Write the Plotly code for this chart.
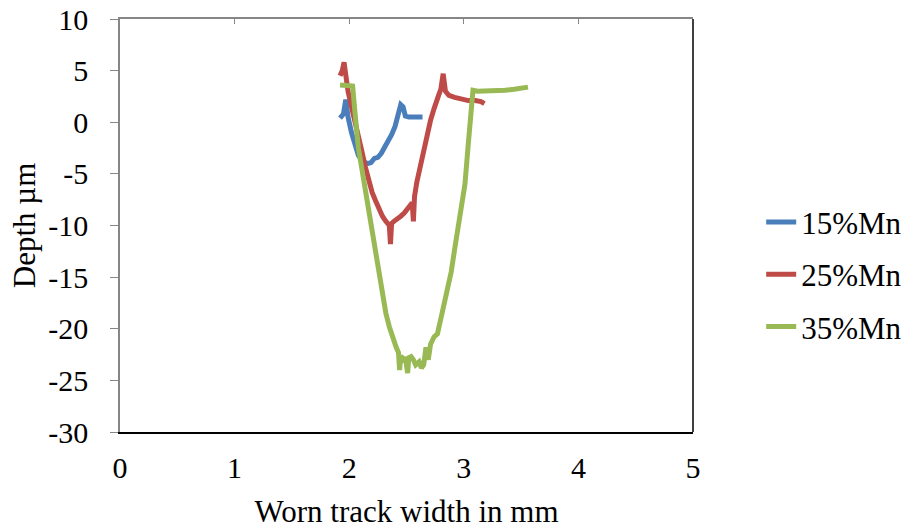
import plotly.graph_objects as go

x15 = [1.92, 1.95, 1.97, 1.99, 2.02, 2.05, 2.08, 2.12, 2.16, 2.19, 2.22, 2.25, 2.28, 2.31,
       2.34, 2.37, 2.40, 2.43, 2.45, 2.47, 2.49, 2.52, 2.56, 2.60, 2.64]
y15 = [0.4, 0.8, 2.2, 0.5, -1.0, -2.2, -3.2, -3.8, -4.0, -3.9, -3.5, -3.4, -3.0, -2.4,
       -1.9, -1.2, -0.4, 0.8, 1.7, 1.5, 0.6, 0.5, 0.5, 0.5, 0.5]

x25 = [1.92, 1.94, 1.955, 1.97, 1.99, 2.02, 2.05, 2.08, 2.11, 2.14, 2.17, 2.20, 2.23, 2.26,
       2.29, 2.32, 2.35, 2.36, 2.37, 2.39, 2.42, 2.45, 2.48, 2.51, 2.53, 2.55, 2.56, 2.57,
       2.59, 2.62, 2.65, 2.68, 2.71, 2.74, 2.76, 2.78, 2.80, 2.82, 2.84, 2.87, 2.92, 2.98,
       3.04, 3.10, 3.15, 3.18]
y25 = [4.5, 5.0, 5.8, 4.2, 3.0, 1.5, 0.2, -1.2, -2.8, -4.3, -5.8, -6.8, -7.6, -8.5,
       -9.1, -9.6, -10.0, -11.8, -9.8, -9.6, -9.4, -9.1, -8.8, -8.3, -8.0, -7.8, -9.6, -7.2,
       -5.8, -4.2, -2.6, -1.3, 0.2, 1.3, 2.2, 2.6, 3.2, 4.7, 3.0, 2.6, 2.4, 2.2,
       2.1, 2.1, 2.0, 1.8]

x35 = [1.92, 1.96, 2.00, 2.03, 2.05, 2.08, 2.11, 2.14, 2.17, 2.20, 2.23, 2.26, 2.29, 2.32,
       2.35, 2.38, 2.41, 2.43, 2.44, 2.45, 2.47, 2.49, 2.51, 2.52, 2.54, 2.56, 2.58, 2.61,
       2.63, 2.65, 2.67, 2.69, 2.71, 2.74, 2.77, 2.80, 2.83, 2.86, 2.89, 2.92, 2.95, 2.98,
       3.01, 3.04, 3.06, 3.08, 3.12, 3.20, 3.28, 3.36, 3.44, 3.50, 3.56]
y35 = [3.6, 3.6, 3.6, 3.5, 1.0, -2.5, -4.5, -6.5, -8.5, -10.6, -12.5, -14.5, -16.8, -18.5,
       -19.8, -21.0, -21.8, -22.3, -24.0, -22.6, -23.0, -22.8, -24.3, -22.8, -22.7, -23.0, -23.5, -23.2,
       -23.8, -23.5, -21.8, -23.0, -21.5, -20.8, -20.5, -19.0, -17.5, -16.0, -14.5, -12.3, -10.2, -8.3,
       -6.0, -2.0, 1.0, 3.1, 3.0, 3.0, 3.1, 3.1, 3.2, 3.3, 3.4]

names = ["15%Mn", "25%Mn", "35%Mn"]
colors = ["#4A7EBB", "#BE4B48", "#98B954"]
xtick_vals = [0, 1, 2, 3, 4, 5]
xtick_text = ["0", "1", "2", "3", "4", "5"]
ytick_vals = [10, 5, 0, -5, -10, -15, -20, -25, -30]
ytick_text = ["10", "5", "0", "-5", "-10", "-15", "-20", "-25", "-30"]

FONT = "Liberation Serif"

fig = go.Figure()
for xs, ys, nm, c in zip([x15, x25, x35], [y15, y25, y35], names, colors):
    fig.add_trace(go.Scatter(x=xs, y=ys, mode="lines", name=nm, legendgroup=nm,
                             line=dict(color=c, width=5)))
fig.add_trace(go.Scatter(x=[None], y=[None], xaxis="x2", showlegend=False, hoverinfo="skip"))

fig.update_layout(
    width=907, height=529,
    margin=dict(l=120, r=214, t=19, b=97, autoexpand=False),
    plot_bgcolor="white", paper_bgcolor="white",
    font=dict(family=FONT, size=30, color="black"),
    xaxis=dict(range=[0, 5], tickvals=xtick_vals, ticktext=xtick_text,
               showgrid=False, zeroline=False, automargin=False,
               showline=True, linecolor="black", linewidth=1.5, ticks="",
               ticklabelstandoff=8, tickfont=dict(size=30),
               title=dict(text="Worn track width in mm", standoff=27,
                          font=dict(size=31))),
    xaxis2=dict(range=[0, 5], overlaying="x", side="top", tickvals=xtick_vals,
                showgrid=False, zeroline=False, showline=True, linecolor="#868686",
                linewidth=1.5, ticks="inside", ticklen=5, tickcolor="#868686",
                showticklabels=False, automargin=False),
    yaxis=dict(range=[-30, 10], tickvals=ytick_vals, ticktext=ytick_text,
               showgrid=False, zeroline=False, automargin=False,
               showline=True, linecolor="#868686", linewidth=1.5, ticks="outside",
               ticklen=8, tickcolor="#868686", ticklabelstandoff=16,
               tickfont=dict(size=30),
               title=dict(text="Depth µm", standoff=3, font=dict(size=31))),
    legend=dict(x=1.119, xanchor="left", y=0.382, yanchor="middle",
                font=dict(family=FONT, size=31), tracegroupgap=9,
                bgcolor="rgba(0,0,0,0)"),
    shapes=[dict(type="line", xref="paper", yref="paper", x0=1, x1=1, y0=0, y1=1,
                 line=dict(color="black", width=1.5))],
)

fig.write_html("out.html", config={"displayModeBar": False},
               post_script="document.body.style.margin='0';")
